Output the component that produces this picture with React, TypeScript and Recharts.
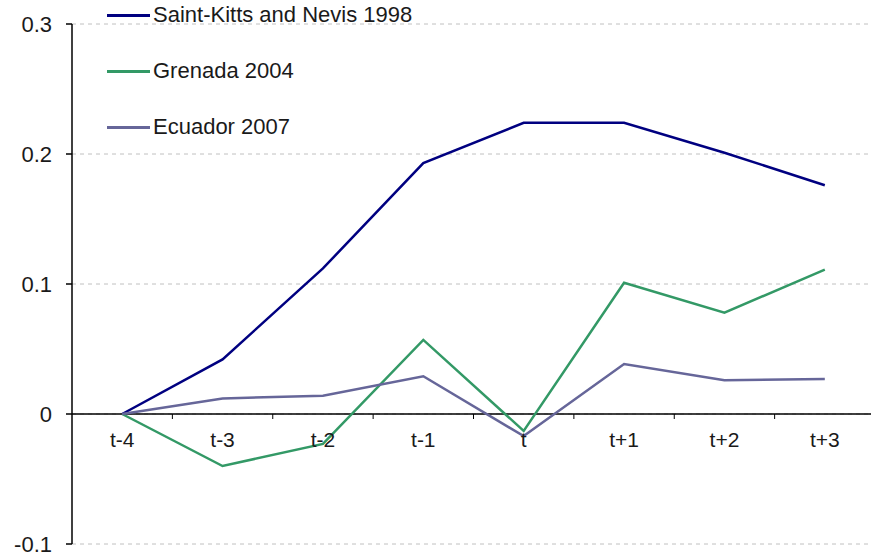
import React from "react";
import { LineChart, Line, XAxis, YAxis, CartesianGrid, ReferenceLine } from "recharts";

const categories = ["t-4", "t-3", "t-2", "t-1", "t", "t+1", "t+2", "t+3"];
const saintKitts = [0, 0.042, 0.112, 0.193, 0.224, 0.224, 0.201, 0.176];
const grenada = [0, -0.040, -0.023, 0.057, -0.013, 0.101, 0.078, 0.111];
const ecuador = [0, 0.012, 0.014, 0.029, -0.017, 0.0385, 0.026, 0.027];
const yTicks = [-0.1, 0, 0.1, 0.2, 0.3];
const yTickLabels = ["-0.1", "0", "0.1", "0.2", "0.3"];

const seriesDefs = [
  { key: "sk", name: "Saint-Kitts and Nevis 1998", color: "#000080", values: saintKitts },
  { key: "gr", name: "Grenada 2004", color: "#339966", values: grenada },
  { key: "ec", name: "Ecuador 2007", color: "#666699", values: ecuador },
];

const data = categories.map((c, i) => {
  const row: any = { cat: c };
  seriesDefs.forEach((s) => (row[s.key] = s.values[i]));
  return row;
});

const W = 880;
const H = 558;
const XH = 14;
const M = { top: 24, right: 5, bottom: 0, left: 0 };
const YW = 72;
const PLOT_H = H - M.top - M.bottom - XH;
const PLOT_W = W - M.left - M.right - YW;
const STEP = PLOT_W / categories.length;
const FONT = "'Liberation Sans', Arial, sans-serif";
const FS = 22;
const TEXT = "#1a1a1a";

// zero line position relative to plot bottom: domain [-0.1, 0.3]
const ZERO_FROM_BOTTOM = PLOT_H * (0.1 / 0.4);

const XTick = (props: any) => {
  const { x, payload, index } = props;
  const plotBottom = M.top + PLOT_H;
  const y0 = plotBottom - ZERO_FROM_BOTTOM;
  return (
    <g>
      {index < categories.length - 1 && (
        <line x1={x + STEP / 2} x2={x + STEP / 2} y1={y0} y2={y0 + 5} stroke="#000" strokeWidth={1} />
      )}
      <text x={x} y={y0 + 33} textAnchor="middle" fill={TEXT} fontSize={FS - 1} fontFamily={FONT}>
        {payload.value}
      </text>
    </g>
  );
};

const LegendBox = () => (
  <div style={{ position: "absolute", left: 107, top: -13, fontFamily: FONT, fontSize: FS, pointerEvents: "none" }}>
    {seriesDefs.map((s) => (
      <div key={s.key} style={{ display: "flex", alignItems: "center", height: 56, whiteSpace: "nowrap" }}>
        <div style={{ width: 43, height: 3, background: s.color, marginRight: 3 }} />
        <span style={{ color: TEXT }}>{s.name}</span>
      </div>
    ))}
  </div>
);

export default function App() {
  return (
    <div style={{ position: "absolute", left: 0, top: 0, width: 871, height: 558, overflow: "hidden", background: "#fff" }}>
      <LineChart width={W} height={H} data={data} margin={M}>
        <CartesianGrid horizontal={true} vertical={false} stroke="#c0c0c0" strokeDasharray="4 4" />
        <XAxis
          dataKey="cat"
          height={XH}
          axisLine={false}
          tickLine={false}
          interval={0}
          padding={{ left: STEP / 2, right: STEP / 2 }}
          tick={<XTick />}
        />
        <YAxis
          width={YW}
          domain={[-0.1, 0.3]}
          ticks={yTicks}
          tickFormatter={(v: number) => yTickLabels[yTicks.indexOf(v)] ?? String(v)}
          axisLine={{ stroke: "#000", strokeWidth: 1.5 }}
          tickLine={{ stroke: "#000", strokeWidth: 1.5 }}
          tickSize={6}
          tickMargin={14}
          tick={{ fill: TEXT, fontSize: FS, fontFamily: FONT }}
        />
        <ReferenceLine y={0} stroke="#000" strokeWidth={1.5} />
        {seriesDefs.map((s) => (
          <Line
            key={s.key}
            dataKey={s.key}
            name={s.name}
            stroke={s.color}
            strokeWidth={2.5}
            dot={false}
            isAnimationActive={false}
            type="linear"
          />
        ))}
      </LineChart>
      <LegendBox />
    </div>
  );
}
